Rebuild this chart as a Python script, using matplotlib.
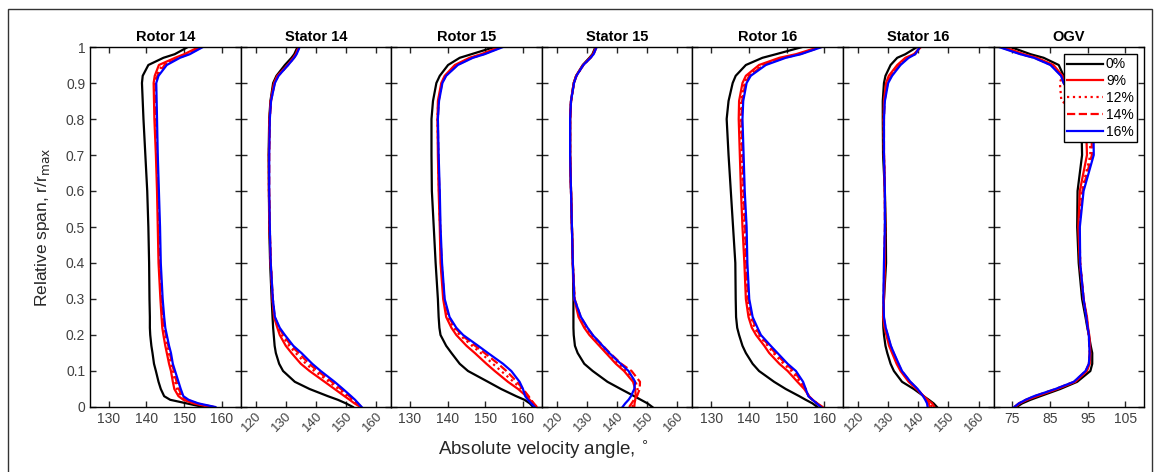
import matplotlib
matplotlib.use("Agg")
import matplotlib.pyplot as plt
from matplotlib.patches import Rectangle

# ======================================================
# DATA
# ======================================================
span = [0, 0.01, 0.02, 0.03, 0.05, 0.07, 0.10, 0.12, 0.15, 0.17, 0.20, 0.22, 0.25,
        0.30, 0.40, 0.50, 0.60, 0.70, 0.80, 0.85, 0.90, 0.92, 0.95, 0.97, 0.98, 1.00]

labels = ["0%", "9%", "12%", "14%", "16%"]
titles = ["Rotor 14", "Stator 14", "Rotor 15", "Stator 15", "Rotor 16", "Stator 16", "OGV"]

# ── Rotor 14 ──
r14_0  = [155.1, 150.7, 146.3, 144.7, 143.8, 143.2, 142.5, 142.0, 141.6, 141.3, 141.0, 140.9, 140.9,
          140.8, 140.7, 140.5, 140.2, 139.7, 139.2, 139.0, 138.8, 139.0, 140.5, 144.5, 147.5, 151.0]
r14_9  = [156.9, 152.5, 149.8, 148.5, 147.4, 147.0, 146.5, 146.0, 145.4, 145.0, 144.5, 144.2, 144.0,
          143.7, 143.2, 143.0, 142.8, 142.5, 142.1, 142.0, 141.9, 142.2, 143.3, 147.6, 150.0, 153.9]
r14_12 = [157.5, 153.0, 150.4, 149.0, 148.1, 147.6, 147.0, 146.5, 145.9, 145.5, 145.0, 144.6, 144.3,
          144.0, 143.5, 143.3, 143.0, 142.7, 142.4, 142.3, 142.2, 142.6, 144.2, 148.2, 150.7, 154.4]
r14_14 = [157.9, 153.4, 150.8, 149.4, 148.6, 148.0, 147.3, 146.8, 146.2, 145.8, 145.2, 144.8, 144.5,
          144.1, 143.6, 143.4, 143.1, 142.8, 142.6, 142.5, 142.4, 142.9, 144.8, 148.6, 151.1, 154.7]
r14_16 = [158.3, 153.8, 151.2, 149.8, 149.1, 148.5, 147.6, 147.0, 146.5, 146.0, 145.4, 145.0, 144.7,
          144.3, 143.8, 143.6, 143.3, 143.0, 142.8, 142.7, 142.6, 143.2, 145.4, 148.9, 151.5, 155.0]

# ── Stator 14 ──
s14_0  = [152.3, 150.0, 147.3, 144.0, 137.9, 133.0, 129.1, 127.8, 126.7, 126.3, 126.0, 125.8, 125.6,
          125.3, 124.8, 124.5, 124.4, 124.3, 124.5, 124.9, 125.8, 126.9, 129.7, 131.9, 132.8, 133.9]
s14_9  = [154.8, 152.8, 151.2, 149.5, 146.2, 142.9, 137.9, 135.0, 131.9, 130.0, 128.0, 127.2, 126.1,
          125.6, 125.0, 124.6, 124.4, 124.4, 124.6, 125.0, 126.1, 127.2, 130.6, 132.5, 133.3, 134.3]
s14_12 = [155.0, 153.4, 152.0, 150.5, 147.5, 144.4, 139.5, 136.7, 133.3, 131.1, 128.7, 127.5, 126.2,
          125.6, 125.0, 124.6, 124.4, 124.4, 124.6, 125.0, 126.2, 127.4, 130.7, 132.6, 133.4, 134.4]
s14_14 = [155.1, 153.8, 152.5, 151.1, 148.3, 145.3, 140.6, 137.8, 134.3, 131.8, 129.2, 127.8, 126.3,
          125.7, 125.0, 124.7, 124.5, 124.5, 124.7, 125.1, 126.3, 127.5, 130.7, 132.7, 133.5, 134.5]
s14_16 = [155.2, 154.1, 153.0, 151.7, 149.0, 146.2, 141.6, 138.8, 135.2, 132.5, 129.7, 128.0, 126.4,
          125.7, 125.0, 124.7, 124.5, 124.5, 124.7, 125.1, 126.4, 127.6, 130.8, 132.8, 133.6, 134.6]

# ── Rotor 15 ──
r15_0  = [162.7, 161.8, 160.4, 158.2, 154.2, 150.7, 145.4, 143.2, 141.0, 139.6, 138.1, 137.8, 137.6,
          137.4, 136.8, 136.3, 135.8, 135.7, 135.7, 136.1, 137.0, 137.9, 140.1, 143.2, 146.3, 152.5]
r15_9  = [163.5, 162.7, 161.8, 160.9, 158.7, 156.0, 152.5, 150.3, 147.2, 145.0, 142.3, 141.0, 139.6,
          138.8, 138.1, 137.9, 137.6, 137.4, 137.3, 137.4, 138.3, 139.2, 141.9, 145.8, 148.9, 153.8]
r15_12 = [163.6, 162.8, 162.0, 161.3, 159.6, 157.5, 154.2, 152.0, 148.8, 146.5, 143.2, 141.6, 140.0,
          139.0, 138.3, 138.0, 137.7, 137.5, 137.3, 137.5, 138.4, 139.4, 142.3, 146.2, 149.3, 154.2]
r15_14 = [163.7, 162.9, 162.1, 161.5, 160.0, 158.4, 155.6, 153.4, 149.8, 147.3, 143.7, 142.0, 140.3,
          139.1, 138.4, 138.0, 137.8, 137.5, 137.4, 137.6, 138.5, 139.5, 142.5, 146.4, 149.5, 154.4]
r15_16 = [163.1, 162.2, 161.3, 160.6, 160.0, 159.1, 156.9, 154.7, 150.7, 148.1, 144.1, 142.3, 140.5,
          139.2, 138.5, 138.1, 137.9, 137.6, 137.4, 137.7, 138.6, 139.6, 142.7, 146.7, 149.8, 154.7]

# ── Stator 15 ──
s15_0  = [151.7, 150.1, 147.9, 145.7, 141.2, 136.8, 131.9, 129.1, 126.9, 126.0, 125.6, 125.5, 125.5,
          125.5, 125.3, 125.0, 124.7, 124.4, 124.4, 124.7, 125.6, 126.4, 128.6, 130.8, 131.8, 132.8]
s15_9  = [145.7, 145.8, 146.0, 146.2, 146.0, 145.3, 142.3, 139.6, 136.3, 134.1, 130.8, 129.1, 127.2,
          125.8, 125.3, 125.0, 124.7, 124.4, 124.4, 124.7, 125.6, 126.4, 128.7, 131.0, 132.0, 133.0]
s15_12 = [145.0, 145.5, 146.0, 146.5, 146.8, 146.2, 143.0, 140.5, 136.9, 134.7, 131.4, 129.7, 127.6,
          125.9, 125.3, 125.0, 124.7, 124.4, 124.4, 124.7, 125.6, 126.5, 128.8, 131.1, 132.1, 133.1]
s15_14 = [144.0, 144.8, 145.6, 146.6, 147.5, 147.6, 144.8, 141.4, 137.6, 135.3, 131.9, 130.1, 127.9,
          125.9, 125.3, 125.0, 124.7, 124.4, 124.4, 124.7, 125.7, 126.5, 128.8, 131.2, 132.2, 133.2]
s15_16 = [141.8, 142.7, 143.8, 144.6, 145.7, 146.0, 143.8, 141.2, 137.4, 135.2, 131.9, 130.2, 128.0,
          125.8, 125.3, 125.0, 124.7, 124.4, 124.4, 124.7, 125.7, 126.5, 128.8, 131.2, 132.2, 133.2]

# ── Rotor 16 ──
r16_0  = [158.2, 156.9, 155.1, 153.4, 149.8, 146.7, 142.7, 141.0, 139.2, 138.3, 137.4, 136.9, 136.6,
          136.5, 136.4, 135.8, 135.2, 134.6, 134.1, 134.6, 135.7, 136.5, 139.2, 143.6, 147.2, 154.2]
r16_9  = [159.6, 158.2, 156.9, 156.0, 154.7, 152.9, 150.3, 148.1, 145.4, 144.1, 141.9, 140.8, 139.9,
          139.2, 138.8, 138.3, 137.9, 137.6, 137.3, 137.4, 138.3, 139.2, 142.7, 148.1, 152.5, 158.7]
r16_12 = [159.4, 158.1, 156.9, 155.9, 155.0, 153.6, 151.3, 149.2, 146.5, 145.0, 142.6, 141.5, 140.4,
          139.6, 139.1, 138.8, 138.4, 138.1, 137.8, 137.9, 138.8, 139.8, 143.6, 149.0, 153.2, 159.0]
r16_14 = [159.3, 158.0, 156.9, 155.9, 155.1, 154.0, 152.0, 149.8, 147.0, 145.4, 142.9, 141.9, 140.7,
          139.8, 139.3, 139.0, 138.6, 138.3, 138.0, 138.2, 139.1, 140.1, 144.0, 149.4, 153.5, 159.2]
r16_16 = [159.1, 158.0, 156.9, 155.8, 155.1, 154.4, 152.5, 150.3, 147.6, 145.8, 143.2, 142.3, 141.0,
          140.1, 139.6, 139.4, 138.9, 138.6, 138.3, 138.5, 139.4, 140.5, 144.5, 149.8, 153.8, 159.4]

# ── Stator 16 ──
s16_0  = [146.2, 145.1, 143.5, 141.8, 138.5, 134.6, 131.9, 130.8, 129.7, 129.1, 128.6, 128.4, 128.3,
          128.6, 129.3, 129.2, 128.9, 128.3, 128.2, 128.2, 128.6, 129.1, 130.8, 133.0, 135.7, 139.6]
s16_9  = [145.3, 144.6, 143.1, 141.8, 139.4, 136.8, 134.1, 132.8, 131.3, 130.3, 129.4, 128.8, 128.3,
          128.6, 128.9, 129.0, 128.9, 128.6, 128.5, 128.6, 129.3, 130.2, 133.0, 135.7, 138.5, 140.9]
s16_12 = [144.5, 144.0, 142.8, 141.7, 139.6, 137.1, 134.3, 133.1, 131.6, 130.6, 129.6, 129.0, 128.4,
          128.5, 128.8, 129.0, 128.9, 128.6, 128.5, 128.7, 129.6, 130.7, 133.5, 136.2, 138.7, 140.7]
s16_14 = [143.8, 143.5, 142.6, 141.7, 139.7, 137.3, 134.5, 133.3, 131.8, 130.8, 129.8, 129.1, 128.5,
          128.5, 128.7, 128.9, 128.9, 128.6, 128.6, 128.8, 129.8, 131.0, 133.8, 136.5, 138.9, 140.6]
s16_16 = [143.1, 142.9, 142.3, 141.6, 139.8, 137.4, 134.6, 133.5, 131.9, 130.9, 129.9, 129.2, 128.6,
          128.4, 128.6, 128.9, 128.9, 128.6, 128.6, 128.9, 130.0, 131.3, 134.1, 136.8, 139.0, 140.5]

# ── OGV ──
ogv_0  = [76.1, 77.6, 79.8, 82.4, 87.7, 92.2, 95.7, 96.2, 96.2, 95.8, 95.3, 94.9, 94.4,
          93.5, 92.6, 92.2, 92.3, 93.5, 93.3, 91.0, 89.0, 88.6, 87.3, 83.3, 79.8, 74.5]
ogv_9  = [75.8, 76.9, 78.9, 81.5, 86.9, 91.7, 94.8, 95.5, 95.7, 95.6, 95.4, 95.1, 94.8,
          93.9, 92.9, 92.5, 92.9, 94.8, 94.5, 91.5, 88.7, 88.3, 85.9, 81.5, 78.0, 72.7]
ogv_12 = [75.6, 76.8, 78.7, 81.1, 86.6, 91.5, 94.6, 95.4, 95.6, 95.5, 95.3, 95.0, 94.7,
          93.9, 93.0, 92.7, 93.4, 95.7, 95.5, 88.0, 87.6, 88.2, 85.5, 81.1, 77.5, 72.0]
ogv_14 = [75.5, 76.7, 78.6, 80.9, 86.5, 91.4, 94.5, 95.3, 95.5, 95.4, 95.3, 95.0, 94.6,
          93.9, 93.0, 92.8, 93.6, 96.1, 96.0, 91.8, 88.6, 88.0, 85.3, 80.9, 77.3, 71.8]
ogv_16 = [75.5, 76.7, 78.5, 80.7, 86.4, 91.3, 94.4, 95.3, 95.5, 95.4, 95.3, 95.0, 94.6,
          93.9, 93.0, 92.9, 93.9, 96.6, 96.5, 92.0, 88.6, 87.9, 85.1, 80.7, 77.1, 71.4]

# axis ranges / ticks per panel
rotor_xlim, rotor_ticks = (125, 165), [130, 140, 150, 160]
stator_xlim, stator_ticks = (115, 165), [120, 130, 140, 150, 160]
ogv_xlim, ogv_ticks = (70, 110), [75, 85, 95, 105]

panels = [
    (titles[0], [r14_0, r14_9, r14_12, r14_14, r14_16], rotor_xlim, rotor_ticks, 0),
    (titles[1], [s14_0, s14_9, s14_12, s14_14, s14_16], stator_xlim, stator_ticks, 45),
    (titles[2], [r15_0, r15_9, r15_12, r15_14, r15_16], rotor_xlim, rotor_ticks, 0),
    (titles[3], [s15_0, s15_9, s15_12, s15_14, s15_16], stator_xlim, stator_ticks, 45),
    (titles[4], [r16_0, r16_9, r16_12, r16_14, r16_16], rotor_xlim, rotor_ticks, 0),
    (titles[5], [s16_0, s16_9, s16_12, s16_14, s16_16], stator_xlim, stator_ticks, 45),
    (titles[6], [ogv_0, ogv_9, ogv_12, ogv_14, ogv_16], ogv_xlim, ogv_ticks, 0),
]

# ── style ──
plt.rcParams.update({
    "font.family": ["Liberation Sans", "DejaVu Sans"],
    "font.size": 10,
    "axes.linewidth": 1.0,
    "xtick.direction": "in",
    "ytick.direction": "in",
    "xtick.top": True,
    "ytick.right": True,
    "xtick.major.size": 4,
    "ytick.major.size": 4,
    "xtick.major.width": 1.0,
    "ytick.major.width": 1.0,
    "xtick.color": "#262626",
    "ytick.color": "#262626",
    "xtick.labelcolor": "#404040",
    "ytick.labelcolor": "#404040",
})

COLORS = ["black", "#FF0000", "#FF0000", "#FF0000", "#0000FF"]
STYLES = ["-", "-", ":", "--", "-"]

W, H = 1160, 472
fig = plt.figure(figsize=(W / 100, H / 100), dpi=100)

ax_left, ax_w = 90, 150.6
ax_bot, ax_h = 472 - 407, 360

axes = []
for i, (title, series, xlim, xticks, rot) in enumerate(panels):
    ax = fig.add_axes([(ax_left + i * ax_w) / W, ax_bot / H, ax_w / W, ax_h / H])
    for vals, c, ls, lab in zip(series, COLORS, STYLES, labels):
        ax.plot(vals, span, color=c, linestyle=ls, linewidth=1.6, label=lab)
    ax.set_xlim(*xlim)
    ax.set_ylim(0, 1)
    ax.set_xticks(xticks)
    ax.set_yticks([k / 10 for k in range(11)])
    if rot:
        ax.set_xticklabels([str(t) for t in xticks], rotation=45, ha="right",
                           rotation_mode="anchor", fontsize=9.5)
        ax.tick_params(axis="x", pad=2)
    if i == 0:
        ax.set_yticklabels(["0"] + [f"{k / 10:.1f}" for k in range(1, 10)] + ["1"])
        ax.set_ylabel("Relative span, r/r$_{\\rm max}$", fontsize=12.5, color="#262626",
                      labelpad=10)
    else:
        ax.set_yticklabels([])
    ax.set_title(title, fontsize=10.5, fontweight="bold", pad=4)
    axes.append(ax)

axes[-1].legend(loc="upper right", fontsize=10, frameon=True, fancybox=False,
                edgecolor="black", framealpha=1, handlelength=2.6,
                handletextpad=0.2, labelspacing=0.2, borderpad=0.25,
                borderaxespad=0.5)
axes[-1].get_legend().get_frame().set_linewidth(1.0)

fig.text(543 / W, 1 - 449 / H, "Absolute velocity angle, $^{\\circ}$", fontsize=13.5,
         color="#262626", ha="center", va="center")

# outer frame
fig.patches.append(Rectangle((8 / W, -0.01), 1144 / W, 1.01 - 9 / H,
                             transform=fig.transFigure, fill=False,
                             edgecolor="#333333", linewidth=1.0))

fig.savefig("out.png", dpi=100)
plt.close("all")
